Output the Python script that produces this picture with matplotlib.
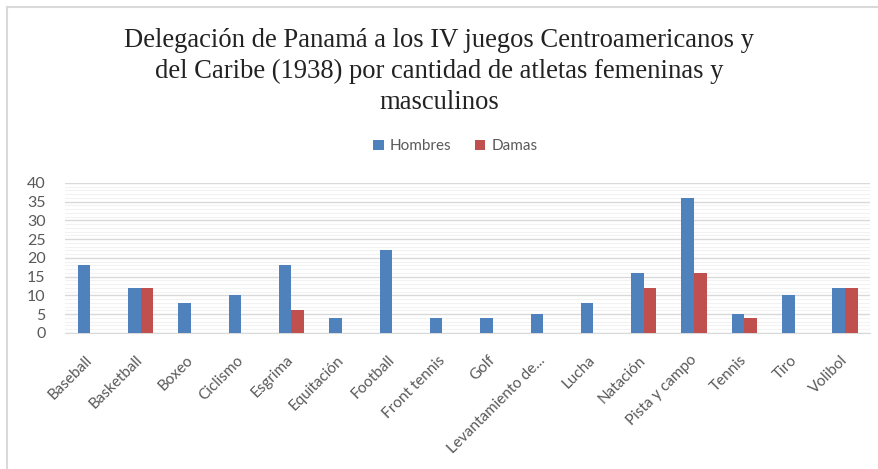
import matplotlib.pyplot as plt
import numpy as np
from matplotlib.lines import Line2D

deportes = ['Baseball', 'Basketball', 'Boxeo', 'Ciclismo', 'Esgrima', 'Equitación',
            'Football', 'Front tennis', 'Golf', 'Levantamiento de...', 'Lucha',
            'Natación', 'Pista y campo', 'Tennis', 'Tiro', 'Volibol']
hombres = [18, 12, 8, 10, 18, 4, 22, 4, 4, 5, 8, 16, 36, 5, 10, 12]
damas = [0, 12, 0, 0, 6, 0, 0, 0, 0, 0, 0, 12, 16, 4, 0, 12]

azul = '#4f81bd'
rojo = '#c0504d'
gris = '#595959'

fig = plt.figure(figsize=(8.79, 4.69), dpi=100)
ax = fig.add_axes([0.074, 0.29, 0.916, 0.32])

x = np.arange(len(deportes))
w = 0.25
ax.bar(x - w / 2, hombres, w, color=azul, label='Hombres', zorder=3)
ax.bar(x + w / 2, damas, w, color=rojo, label='Damas', zorder=3)

ax.set_xlim(-0.5, len(deportes) - 0.5)
ax.set_ylim(0, 40)
ax.set_yticks(range(0, 41, 5))
ax.set_yticks(range(0, 41, 1), minor=True)
ax.grid(axis='y', which='major', color='#d9d9d9', linewidth=1, zorder=0)
ax.grid(axis='y', which='minor', color='#f2f2f2', linewidth=0.8, zorder=0)
for s in ['top', 'right', 'left']:
    ax.spines[s].set_visible(False)
ax.spines['bottom'].set_color('#d9d9d9')
ax.tick_params(axis='both', which='both', length=0)
ax.tick_params(axis='y', labelsize=11.5, labelcolor=gris, pad=14)
ax.tick_params(axis='x', pad=18)
ax.set_xticks(x)
ax.set_xticklabels(deportes, rotation=45, ha='right', va='center', rotation_mode='anchor',
                   fontsize=11, color=gris, family='Lato')
for t in ax.get_yticklabels():
    t.set_family('Lato')

fig.text(0.5, 0.94, 'Delegación de Panamá a los IV juegos Centroamericanos y\n'
         'del Caribe (1938) por cantidad de atletas femeninas y\nmasculinos',
         ha='center', va='top', fontsize=19.2, family='Liberation Serif',
         linespacing=1.3, color='#222222')

leg = fig.legend(loc='center', bbox_to_anchor=(0.518, 0.688), ncol=2, frameon=False,
                 handlelength=0.7, handleheight=0.7, handletextpad=0.4,
                 columnspacing=1.5, prop={'family': 'Lato', 'size': 11})
for t in leg.get_texts():
    t.set_color(gris)

# marco gris del grafico
fig.add_artist(Line2D([7 / 879, 1], [1 - 7 / 469, 1 - 7 / 469], color='#d9d9d9', lw=1.5))
fig.add_artist(Line2D([7 / 879, 7 / 879], [0, 1 - 7 / 469], color='#d9d9d9', lw=1.5))

plt.savefig('out.png', dpi=100)
